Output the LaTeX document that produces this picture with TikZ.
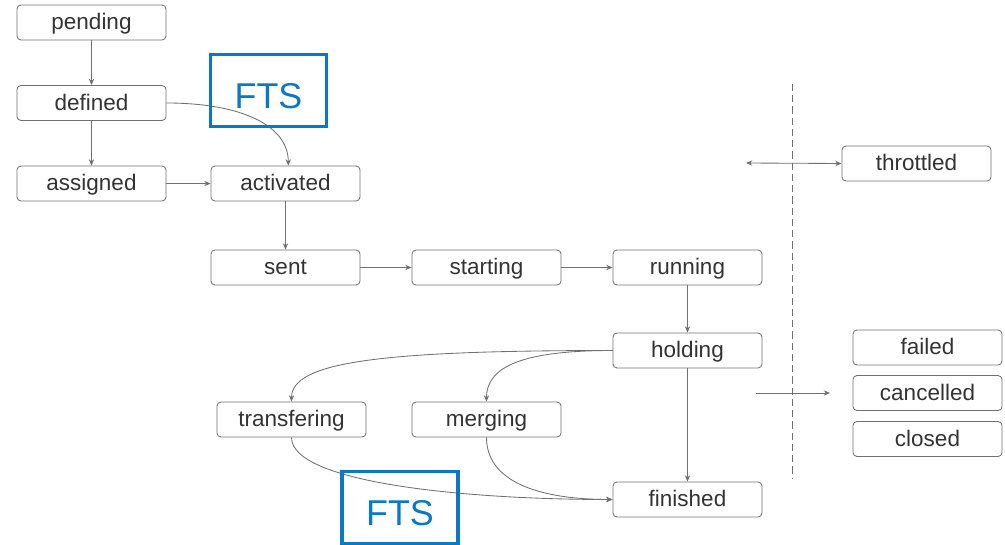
\documentclass[tikz,border=0pt]{standalone}
\usepackage{fontspec}
\setmainfont{Liberation Sans}
\usepackage{tikz}
\usetikzlibrary{positioning,arrows.meta}

\definecolor{linegray}{HTML}{707070}
\definecolor{textgray}{HTML}{333333}
\definecolor{ftsblue}{HTML}{0A78C4}

\begin{document}
\begin{tikzpicture}[
      x=0.025cm, y=-0.025cm,
      st/.style = {draw=linegray, rounded corners=0.1cm, line width=0.6pt,
                   minimum width=3.725cm, minimum height=0.875cm, inner sep=0pt,
                   text height=14pt, text depth=3.4pt,
                   text=textgray, font=\fontsize{16}{18}\selectfont},
      fts/.style = {draw=ftsblue, line width=2.2pt, text=ftsblue,
                   minimum width=2.9cm, minimum height=1.8cm, inner sep=0pt,
                   text height=25pt, text depth=0pt,
                   font=\fontsize{25.5}{28}\selectfont},
      ar/.style = {draw=linegray, line width=0.6pt, -{Stealth[length=4.5pt,width=3.8pt]}},
    ]
    \useasboundingbox (0,0) rectangle (1005,545);

    % states
    \node[st] (pending)   at (91.5, 22.5)  {pending};
    \node[st] (defined)   at (91.5, 103)   {defined};
    \node[st] (assigned)  at (91.5, 183.5) {assigned};
    \node[st] (activated) at (285.5,183.5) {activated};
    \node[st] (sent)      at (285.5,267.5) {sent};
    \node[st] (starting)  at (486.5,267.5) {starting};
    \node[st] (running)   at (687.5,267.5) {running};
    \node[st] (holding)   at (687.5,350.5) {holding};
    \node[st] (transfering) at (291.5,419.5) {transfering};
    \node[st] (merging)   at (486.5,419.5) {merging};
    \node[st] (finished)  at (687.5,499.5) {finished};
    \node[st] (throttled) at (916.5,163.5) {throttled};
    \node[st] (failed)    at (927.5,347.5) {failed};
    \node[st] (cancelled) at (927.5,393)   {cancelled};
    \node[st] (closed)    at (927.5,439)   {closed};

    \draw[ar] (pending) -- (defined);
    \draw[ar] (defined) -- (assigned);
    \draw[ar] (assigned) -- (activated);
    \draw[ar] (defined.east) .. controls +(75,0) and +(0,-40) .. ([xshift=0.07cm]activated.north);
    \draw[ar] (activated) -- (sent);
    \draw[ar] (sent) -- (starting);
    \draw[ar] (starting) -- (running);
    \draw[ar] (running) -- (holding);
    \draw[ar] (holding) -- (finished);
    \draw[ar] (holding.west) .. controls +(-230,0) and +(0,-40) .. (transfering.north);
    \draw[ar] (holding.west) .. controls +(-90,0) and +(0,-35) .. (merging.north);
    \draw[ar] (transfering.south) .. controls +(0,45) and +(-150,0) .. (finished.west);
    \draw[ar] (merging.south) .. controls +(0,50) and +(-60,0) .. (finished.west);

    % separator
    \coordinate (sepTop) at (792,84);
    \coordinate (sepBot) at (792,478);
    \draw[linegray, line width=0.6pt, dash pattern=on 5pt off 3pt] (sepTop) -- (sepBot);

    \coordinate (thrFrom) at (746,163);
    \draw[ar, {Stealth[length=4.5pt,width=3.8pt]}-{Stealth[length=4.5pt,width=3.8pt]}] (thrFrom) -- (throttled.west);
    \coordinate (endFrom) at (756,393);
    \coordinate (endTo) at (830,393);
    \draw[ar] (endFrom) -- (endTo);

    % FTS marks
    \node[fts] (fts1) at (268.5,90.5) {FTS};
    \node[fts] (fts2) at (400,507.5)  {FTS};
  \end{tikzpicture}
\end{document}
